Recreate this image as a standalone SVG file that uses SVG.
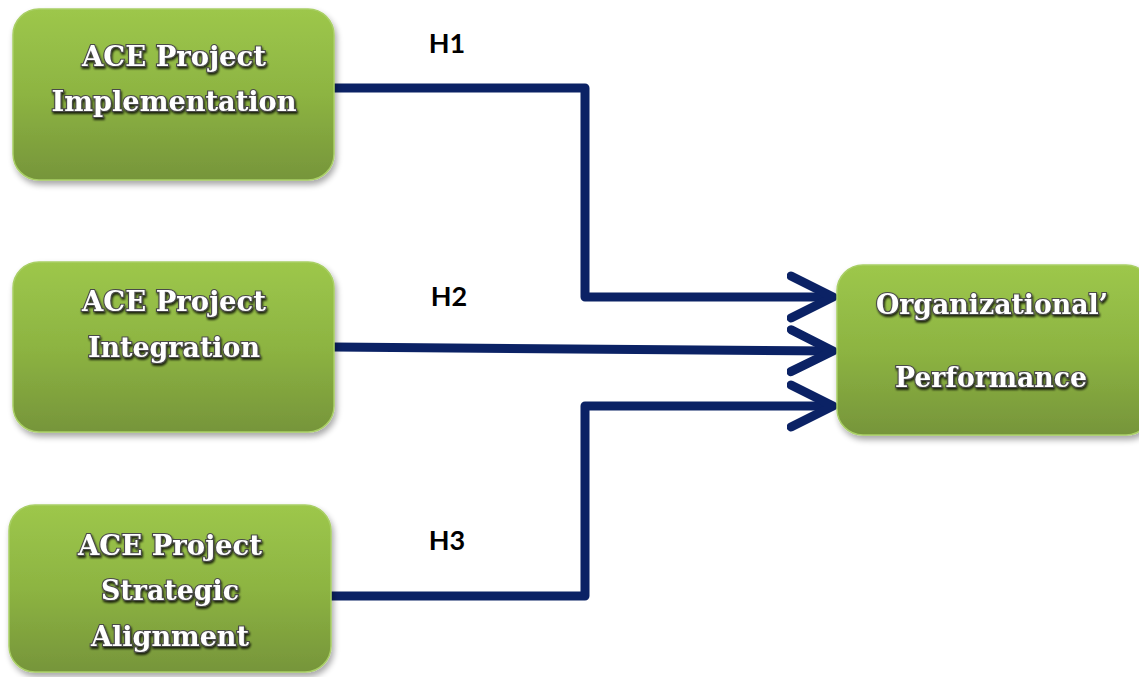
<svg xmlns="http://www.w3.org/2000/svg" width="1139" height="677" viewBox="0 0 1139 677">
<defs>
<linearGradient id="g" x1="0" y1="0" x2="0" y2="1">
<stop offset="0" stop-color="#9DC74B"/>
<stop offset="0.5" stop-color="#8DB442"/>
<stop offset="1" stop-color="#76953A"/>
</linearGradient>
<filter id="sh" x="-10%" y="-10%" width="125%" height="130%">
<feGaussianBlur in="SourceAlpha" stdDeviation="3"/>
<feOffset dx="2" dy="4" result="b"/>
<feComponentTransfer><feFuncA type="linear" slope="0.35"/></feComponentTransfer>
<feMerge><feMergeNode/><feMergeNode in="SourceGraphic"/></feMerge>
</filter>
<filter id="ts" x="-10%" y="-30%" width="120%" height="160%">
<feGaussianBlur in="SourceAlpha" stdDeviation="1.2"/>
<feOffset dx="1" dy="1.5"/>
<feComponentTransfer><feFuncA type="linear" slope="0.8"/></feComponentTransfer>
<feMerge><feMergeNode/><feMergeNode in="SourceGraphic"/></feMerge>
</filter>
<marker id="arr" markerUnits="userSpaceOnUse" markerWidth="60" markerHeight="60" refX="46" refY="25" orient="auto" viewBox="0 0 60 50">
<path d="M4,4 L46,25 L4,46" fill="none" stroke="#0B2265" stroke-width="9" stroke-linecap="round" stroke-linejoin="round"/>
</marker>
</defs>
<style>
.box{fill:url(#g);stroke:#A9CF66;stroke-width:1.5;filter:url(#sh)}
.t{font-family:"DejaVu Serif",serif;font-weight:bold;font-size:27px;fill:#fff;stroke:#4a4a4a;stroke-width:2.2;paint-order:stroke;text-anchor:middle;filter:url(#ts)}
.h{font-family:Lato,"Liberation Sans",sans-serif;font-weight:bold;font-size:27px;fill:#000;text-anchor:middle}
.c{fill:none;stroke:#0B2265;stroke-width:9;stroke-linejoin:round}
</style>
<g id="connectors">
<path class="c" d="M334,88 H585 V297 H833" marker-end="url(#arr)"/>
<path class="c" d="M334,347 L833,351" marker-end="url(#arr)"/>
<path class="c" d="M331,596 H585 V406 H833" marker-end="url(#arr)"/>
<text class="h" x="447" y="53">H1</text>
<text class="h" x="449" y="306">H2</text>
<text class="h" x="447" y="550">H3</text>
</g>
<g id="n1">
<rect class="box" x="13" y="9" width="321" height="171" rx="26"/>
<text class="t" x="174" y="66" textLength="184" lengthAdjust="spacingAndGlyphs">ACE Project</text>
<text class="t" x="174" y="111" textLength="245" lengthAdjust="spacingAndGlyphs">Implementation</text>
</g>
<g id="n2">
<rect class="box" x="13" y="262" width="321" height="170" rx="26"/>
<text class="t" x="174" y="311" textLength="184" lengthAdjust="spacingAndGlyphs">ACE Project</text>
<text class="t" x="174" y="357" textLength="172" lengthAdjust="spacingAndGlyphs">Integration</text>
</g>
<g id="n3">
<rect class="box" x="9" y="505" width="322" height="167" rx="26"/>
<text class="t" x="170" y="555" textLength="184" lengthAdjust="spacingAndGlyphs">ACE Project</text>
<text class="t" x="170" y="600" textLength="138" lengthAdjust="spacingAndGlyphs">Strategic</text>
<text class="t" x="170" y="646" textLength="158" lengthAdjust="spacingAndGlyphs">Alignment</text>
</g>
<g id="n4">
<rect class="box" x="837" y="265" width="315" height="170" rx="26"/>
<text class="t" x="992" y="314" textLength="232" lengthAdjust="spacingAndGlyphs">Organizational’</text>
<text class="t" x="991" y="387" textLength="192" lengthAdjust="spacingAndGlyphs">Performance</text>
</g>
</svg>
